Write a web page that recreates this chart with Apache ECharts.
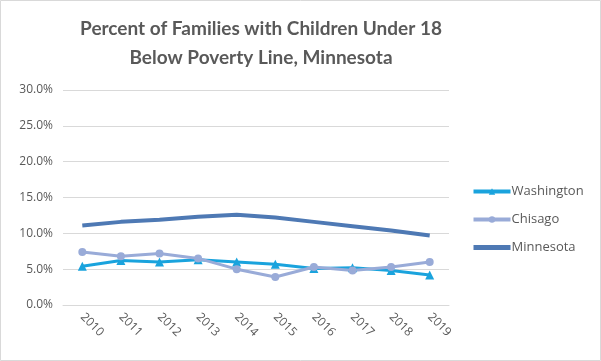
<!DOCTYPE html>
<html><head><meta charset="utf-8">
<script src="https://cdn.jsdelivr.net/npm/echarts@6/dist/echarts.min.js"></script>
<style>html,body{margin:0;padding:0;background:#fff}#c{width:601px;height:361px}</style>
</head><body><div id="c"></div>
<script>
const years = ['2010','2011','2012','2013','2014','2015','2016','2017','2018','2019'];
const washington = [5.4, 6.2, 6.0, 6.3, 6.0, 5.7, 5.1, 5.2, 4.8, 4.2];
const chisago = [7.4, 6.8, 7.2, 6.5, 5.0, 3.9, 5.3, 4.8, 5.3, 6.0];
const minnesota = [11.1, 11.6, 11.9, 12.3, 12.6, 12.2, 11.6, 11.0, 10.4, 9.7];
const yTicks = [0, 5, 10, 15, 20, 25, 30];
const titleLines = ['Percent of Families with Children Under 18', 'Below Poverty Line, Minnesota'];

const chart = echarts.init(document.getElementById('c'));
const txt = '#595959';
const cW = '#1aa3dd', cC = '#99abd8', cM = '#4e79b4';
const tStyle = {fontFamily:'Lato', fontWeight:'bold', fontSize:19, fill:txt, textAlign:'center', textVerticalAlign:'middle'};
chart.setOption({
  animation: false,
  backgroundColor: '#fff',
  graphic: [
    {type:'rect', shape:{x:0.5,y:0.5,width:600,height:360}, style:{fill:'none',stroke:'#d9d9d9',lineWidth:1}, silent:true},
    {type:'text', x:261, y:29, style:Object.assign({text:titleLines[0]}, tStyle), silent:true},
    {type:'text', x:261, y:58, style:Object.assign({text:titleLines[1]}, tStyle), silent:true}
  ],
  legend: {
    orient:'vertical', left: 471, top: 185, padding: 0, itemWidth: 37, itemHeight: 8, itemGap: 15,
    textStyle:{fontFamily:'Open Sans', fontSize:13, color:txt, padding:[0,0,0,-4]},
    data:[
      {name:'Washington', lineStyle:{width:4}},
      {name:'Chisago', lineStyle:{width:4}},
      {name:'Minnesota', lineStyle:{width:5}, itemStyle:{opacity:0}}
    ]
  },
  grid: {left: 63, right: 152, top: 90, bottom: 56},
  xAxis: {
    type:'category', data: years, boundaryGap:true,
    axisLine:{lineStyle:{color:'#d9d9d9'}}, axisTick:{show:false},
    axisLabel:{rotate:-45, color:txt, fontFamily:'Open Sans', fontSize:12, margin:10, interval:0}
  },
  yAxis: {
    type:'value', min: yTicks[0], max: yTicks[yTicks.length-1], interval: 5,
    axisLine:{show:false}, axisTick:{show:false},
    splitLine:{lineStyle:{color:'#d9d9d9'}},
    axisLabel:{color:txt, fontFamily:'Open Sans', fontSize:12, margin:10, formatter:v=>v.toFixed(1)+'%'}
  },
  series: [
    {name:'Washington', type:'line', data:washington, symbol:'triangle', symbolSize:9,
     lineStyle:{width:3,color:cW}, itemStyle:{color:cW}},
    {name:'Chisago', type:'line', data:chisago, symbol:'circle', symbolSize:8,
     lineStyle:{width:3,color:cC}, itemStyle:{color:cC}},
    {name:'Minnesota', type:'line', data:minnesota, symbol:'none',
     lineStyle:{width:4,color:cM}, itemStyle:{color:cM}}
  ]
});
</script></body></html>
